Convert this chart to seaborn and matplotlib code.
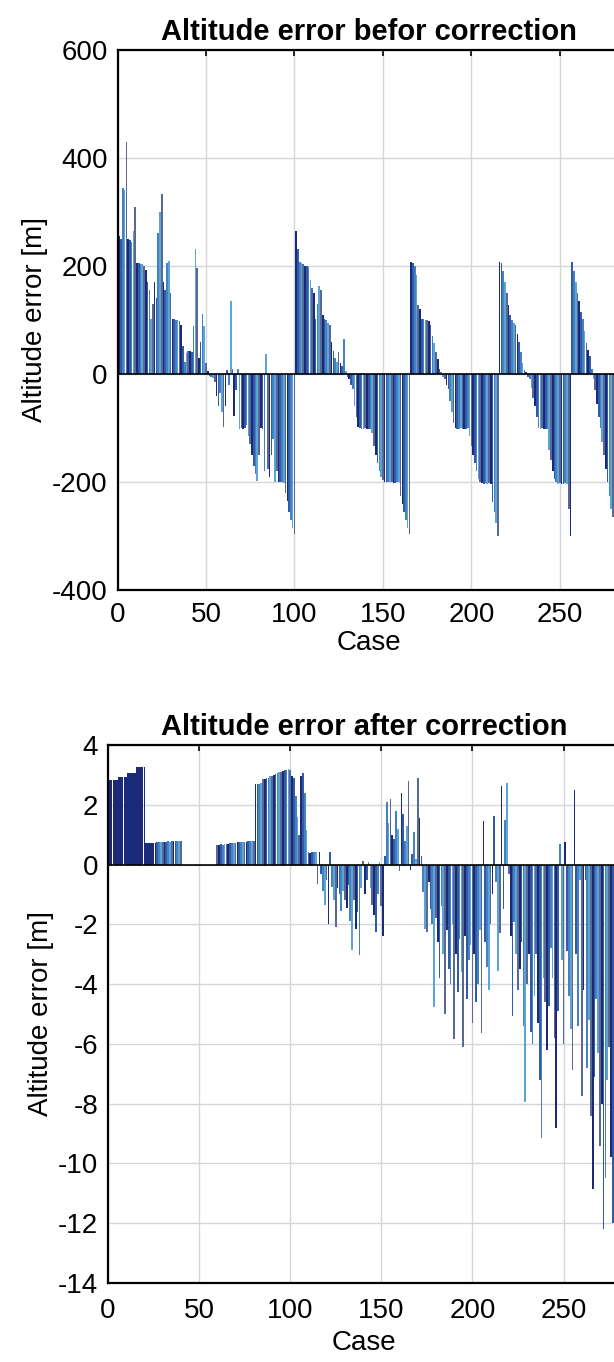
import numpy as np
import pandas as pd
import matplotlib
matplotlib.use("Agg")
import matplotlib.pyplot as plt
import seaborn as sns

# ---------------- data ----------------
before_vals = [
    255, 250, 345, 340, 430, 250, 248, 245, 265, 310,
    205, 205, 204, 203, 200, 192, 170, 155, 102, 130,
    170, 140, 262, 300, 333, 170, 155, 205, 210, 150,
    102, 102, 100, 100, 98, 90, 52, 22, 38, 42,
    42, 40, 88, 231, 197, 30, 60, 111, 89, 20,
    5, -3, -5, -8, -15, -40, -60, -35, -70, -98,
    -60, 8, -20, 135, 10, -78, -30, 10, -102, -100,
    -102, -100, -95, -115, -130, -150, -170, -185, -198, -150,
    -100, -102, -180, 37, -175, -190, -150, -120, -200, -180,
    -200, -200, -200, -202, -220, -235, -255, -270, -285, -297,
    265, 231, 207, 205, 203, 200, 200, 198, 175, 160,
    150, 102, 130, 163, 155, 110, 102, 100, 95, 90,
    60, 42, 30, 22, 40, 20, 15, 65, 5, -5,
    -10, -20, -28, -60, -80, -98, -100, -102, -102, -100,
    -102, -101, -102, -110, -133, -150, -165, -180, -190, -197,
    -200, -200, -200, -200, -200, -202, -201, -200, -200, -225,
    -240, -255, -270, -285, -296, 207, 205, 200, 183, 127,
    120, 102, 102, 100, 100, 98, 90, 70, 57, 40,
    27, 10, 3, -5, -10, -20, -28, -50, -70, -90,
    -100, -102, -102, -100, -102, -101, -102, -100, -115, -133,
    -150, -165, -180, -195, -200, -202, -203, -201, -203, -202,
    -203, -237, -255, -275, -300, 207, 205, 190, 170, 150,
    127, 110, 100, 95, 90, 75, 60, 40, 20, 8,
    3, -5, -10, -25, -45, -60, -80, -100, -102, -100,
    -102, -102, -101, -140, -160, -180, -195, -200, -203, -202,
    -203, -203, -202, -203, -250, -300, 207, 190, 170, 150,
    135, 115, 102, 80, 57, 45, 33, 10, -10, -30,
    -55, -80, -100, -125, -150, -175, -200, -225, -250, -265,
    -270, -280, -285, -290,
]

after_vals = [
    2.84, 2.84, 2.84, 2.84, 2.84, 2.93, 2.93, 2.93, 2.93, 2.93,
    3.07, 3.07, 3.07, 3.07, 3.07, 3.27, 3.27, 3.27, 3.27, 3.27,
    0.73, 0.73, 0.73, 0.73, 0.73, 0.73, 0.75, 0.76, 0.75, 0.76,
    0.77, 0.76, 0.78, 0.77, 0.78, 0.79, 0.78, 0.80, 0.80, 0.80,
    0, 0, 0, 0, 0, 0, 0, 0, 0, 0,
    0, 0, 0, 0, 0, 0, 0, 0, 0, 0.66,
    0.67, 0.68, 0.67, 0.69, 0.70, 0.70, 0.71, 0.72, 0.72, 0.73,
    0.74, 0.75, 0.74, 0.76, 0.76, 0.77, 0.78, 0.79, 0.79, 0.80,
    2.68, 2.68, 2.70, 2.72, 2.85, 2.85, 2.88, 2.90, 2.97, 2.97,
    3.00, 3.03, 3.05, 3.08, 3.10, 3.12, 3.15, 3.18, 3.20, 3.15,
    2.95, 2.90, 2.30, 1.60, 1.00, 2.95, 3.07, 2.40, 1.16, 0.43,
    0.40, 0.43, 0.43, 0.43, -0.64, 0.43, -0.30, -0.90, -1.34, -0.50,
    -1.98, 0.43, -0.76, -1.20, -2.10, -0.80, -1.00, -1.57, -0.90, -1.20,
    -1.46, -0.70, -1.90, -2.86, -1.20, -2.16, -1.60, -3.03, -0.80, 0.12,
    -1.00, -0.50, 0.10, -0.80, -1.34, -1.70, -2.27, -1.00, 0.10, -1.40,
    -2.39, 0.30, 2.10, 1.40, 2.20, 1.00, 0.87, 1.80, 1.20, -0.23,
    2.39, 1.69, 0.80, 1.30, 2.80, -0.17, 0.35, 1.10, 0.20, 2.90,
    1.57, 0.30, -0.93, -2.16, -2.27, -0.60, -1.50, -2.00, -4.78, -1.80,
    -2.60, -3.79, -1.40, -3.00, -5.01, -2.20, -3.50, -4.00, -2.00, -5.83,
    -3.00, -4.25, -2.50, -3.60, -6.12, -2.40, -4.50, -3.20, -2.70, -5.30,
    -3.00, -4.60, -4.00, -2.20, -5.65, 1.46, -2.60, -3.44, -4.20, -2.00,
    -1.00, 1.63, -0.60, -3.55, -2.30, 2.62, -1.50, 1.50, 2.74, -0.30,
    -2.40, -5.07, -1.92, -3.00, -4.20, -3.50, -2.60, -5.40, -7.93, -4.00,
    -3.00, -5.60, -6.00, -4.40, -3.00, -5.30, -7.20, -9.15, -3.80, -4.60,
    -6.20, -4.72, -2.80, -3.80, -5.80, -8.80, -4.90, 0.70, -3.20, -6.00,
    0.76, -2.90, -4.40, -5.50, -6.88, 2.50, -3.00, -5.40, -0.50, -7.75,
    -4.20, -0.50, -6.80, -5.20, -8.40, -10.84, -7.10, -4.50, -6.30, -9.40,
    -8.00, -12.18, -10.50, -7.20, -6.10, -9.80, -12.00, -11.20, -9.00, -12.30,
    -10.20, -11.50,
]

series_names = ["S1", "S2", "S3", "S4", "S5"]
series_colors = ["#0a1e88", "#1d54bc", "#2c82d8", "#48a8ea", "#4f649e"]

cases_before = list(range(1, len(before_vals) + 1))
cases_after = list(range(1, len(after_vals) + 1))

grp_before = [series_names[i % 5] for i in range(len(before_vals))]
# first 26 cases after correction form one solid navy block
grp_after = ["S1"] * 26 + [series_names[i % 5] for i in range(26, len(after_vals))]

df_before = pd.DataFrame({"Case": cases_before, "Err": before_vals, "Series": grp_before})
df_after = pd.DataFrame({"Case": cases_after, "Err": after_vals, "Series": grp_after})

# ---------------- style ----------------
sns.set_theme(style="white")
plt.rcParams["font.family"] = ["Liberation Sans", "DejaVu Sans"]
plt.rcParams["axes.unicode_minus"] = False
plt.rcParams["text.color"] = "black"
plt.rcParams["axes.labelcolor"] = "black"

W, H = 614, 1362
fig = plt.figure(figsize=(W / 100, H / 100), dpi=100)

pal = dict(zip(series_names, series_colors))
FS = 20

def style_axes(ax, xmax, ylim, yticks, title, xpad, xlabelpad):
    ax.set_xlim(0, xmax)
    ax.set_ylim(*ylim)
    ax.set_xticks([0, 50, 100, 150, 200, 250])
    ax.set_yticks(yticks)
    ax.grid(True, color="#d6d6d6", linewidth=1.0)
    ax.set_axisbelow(True)
    ax.axhline(0, color="black", linewidth=1.2, zorder=3)
    for s in ax.spines.values():
        s.set_color("black")
        s.set_linewidth(1.6)
        s.set_visible(True)
    ax.tick_params(axis="both", which="both", direction="in", length=4,
                   width=1.2, top=True, right=True, labelsize=FS,
                   colors="black")
    ax.tick_params(axis="x", pad=xpad)
    ax.tick_params(axis="y", pad=7)
    ax.set_xlabel("Case", fontsize=FS, labelpad=xlabelpad, color="black")
    ax.set_ylabel("Altitude error [m]", fontsize=FS, labelpad=3, color="black")
    ax.set_title(title, fontsize=21, fontweight="bold", pad=7, color="black")

# top axes
ax1 = fig.add_axes([117.5 / W, (H - 590) / H, 502.5 / W, 540 / H])
sns.barplot(data=df_before, x="Case", y="Err", hue="Series", palette=pal,
            native_scale=True, dodge=False, width=0.92, errorbar=None,
            linewidth=0, legend=False, ax=ax1)
style_axes(ax1, 284, (-400, 600), [-400, -200, 0, 200, 400, 600],
           "Altitude error befor correction", xpad=9, xlabelpad=1)

# bottom axes
ax2 = fig.add_axes([108 / W, (H - 1283) / H, 512 / W, 538 / H])
sns.barplot(data=df_after, x="Case", y="Err", hue="Series", palette=pal,
            native_scale=True, dodge=False, width=0.92, errorbar=None,
            linewidth=0, legend=False, ax=ax2)
style_axes(ax2, 281, (-14, 4), list(range(-14, 5, 2)),
           "Altitude error after correction", xpad=11, xlabelpad=4)

fig.savefig("out.png", dpi=100)
